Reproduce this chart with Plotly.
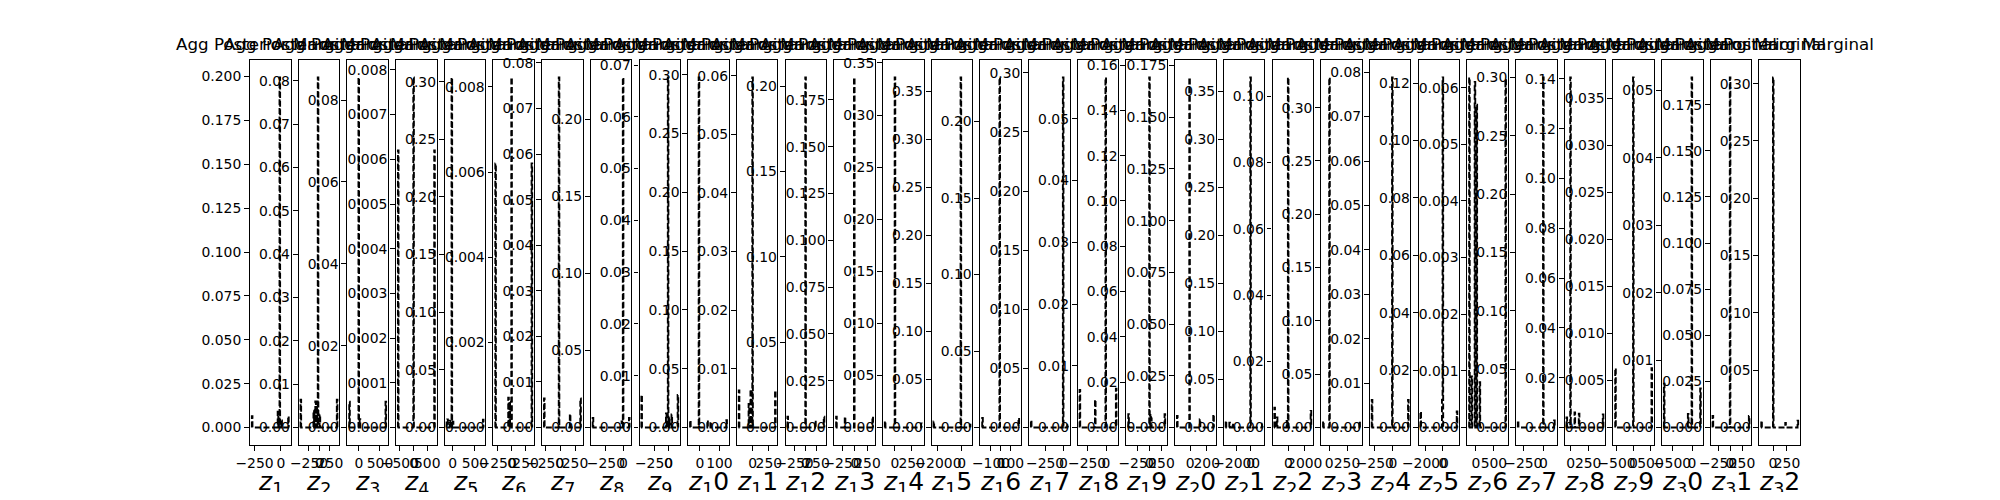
import numpy as np
import plotly.graph_objects as go

# ---------------- data ----------------
DIM_NAMES = [str(i) for i in range(1, 33)]

DATA_MIN = [-275, -451, -232, -575, -136, -293, -268, -441, -472, -51,
            -212, -412, -377, -152, -2376, -188, -445, -349, -442, -157,
            -3582, -1724, -88, -292, -2570, -191, -319, -58, -540, -704,
            -363, -210]
DATA_MAX = [73, 427, 646, 776, 692, 368, 348, 90, 174, 139,
            354, 428, 361, 401, 739, 182, 61, 138, 326, 286,
            1696, 2797, 432, 215, 1640, 836, 142, 467, 546, 219,
            405, 450]

# non-empty histogram bins: positions and heights (density)
BAR_X = [
    [-275, -31, -9, 5, 73],
    [-451, -140, -95, -60, -29, 10, 427],
    [-232, 0, 30, 646],
    [-575, 0, 776],
    [-136, -110, -60, -22, 10, 692],
    [-293, -60, -30, 0, 368],
    [-268, -12, 170, 348],
    [-441, -20, 0, 90],
    [-472, -40, 0, 20, 60, 174],
    [-51, -4, 40, 55, 139],
    [-212, -60, -30, 0, 354],
    [-412, 0, 220, 428],
    [-377, -200, -20, 361],
    [-152, 0, 401],
    [-2376, -60, 739],
    [-188, -10, 182],
    [-445, 0, 61],
    [-349, -145, 0, 138],
    [-442, -4, 20, 40, 326],
    [-157, -8, 120, 286],
    [-3582, -3000, -2600, 0, 1696],
    [-1724, -1400, -150, 0, 2797],
    [-88, 0, 432],
    [-292, -10, 215],
    [-2570, -100, 0, 1640],
    [-191, -120, -30, 20, 110, 836],
    [-319, 0, 142],
    [-58, 0, 60, 120, 467],
    [-540, 0, 546],
    [-704, -100, 0, 219],
    [-363, 0, 405],
    [-210, 0, 220, 450],
]
BAR_H = [
    [0.0065, 0.009, 0.1995, 0.004, 0.0065],
    [0.0064, 0.004, 0.006, 0.005, 0.0808, 0.003, 0.0064],
    [0.0063, 0.0855, 0.002, 0.0063],
    [0.0062, 0.00783, 0.0062],
    [0.006, 0.007, 0.006, 0.3036, 0.005, 0.0067],
    [0.0062, 0.0007, 0.0006, 0.00822, 0.0062],
    [0.0064, 0.0768, 0.003, 0.0064],
    [0.0062, 0.004, 0.227, 0.0062],
    [0.0063, 0.0027, 0.0676, 0.002, 0.0025, 0.0063],
    [0.0062, 0.2976, 0.006, 0.005, 0.0062],
    [0.0063, 0.004, 0.0065, 0.0597, 0.0063],
    [0.0063, 0.2051, 0.004, 0.0063],
    [0.0058, 0.0058, 0.187, 0.0058],
    [0.0062, 0.336, 0.004],
    [0.0062, 0.3646, 0.003],
    [0.0062, 0.2288, 0.0062],
    [0.0062, 0.296, 0.003],
    [0.0061, 0.0045, 0.0567, 0.0063],
    [0.0059, 0.1545, 0.006, 0.004, 0.0059],
    [0.0056, 0.1692, 0.004, 0.0064],
    [0.007, 0.005, 0.004, 0.3646, 0.004],
    [0.006, 0.003, 0.002, 0.1057, 0.005],
    [0.006, 0.3283, 0.006],
    [0.0062, 0.0788, 0.0062],
    [0.0056, 0.0096, 0.122, 0.0056],
    [0.00618, 0.0009, 0.0061, 0.0057, 0.0008, 0.00615],
    [0.006, 0.300, 0.006],
    [0.004, 0.1406, 0.006, 0.0055, 0.0052],
    [0.0063, 0.0372, 0.0063],
    [0.0065, 0.002, 0.0519, 0.0058],
    [0.0063, 0.1898, 0.0063],
    [0.006, 0.3054, 0.004, 0.006],
]

X_TICKS = [
    [-250, 0], [-250, 0, 250], [0, 500], [-500, 0, 500], [0, 500],
    [-250, 0, 250], [-250, 0, 250], [-250, 0], [-250, 0], [0, 100],
    [0, 250], [-250, 0, 250], [-250, 0, 250], [0, 250], [-2000, 0],
    [-100, 0, 100], [-250, 0], [-250, 0], [-250, 0, 250], [0, 200],
    [-2000, 0], [-2000, 0, 2000], [0, 250], [-250, 0], [-2000, 0],
    [0, 500], [-250, 0], [0, 250], [-500, 0, 500], [-500, 0],
    [-250, 0, 250], [0, 250],
]
Y_STEP = [0.025, 0.01, 0.02, 0.001, 0.05, 0.002, 0.01, 0.05, 0.01, 0.05,
          0.01, 0.05, 0.025, 0.05, 0.05, 0.05, 0.05, 0.01, 0.02, 0.025,
          0.05, 0.02, 0.05, 0.01, 0.02, 0.001, 0.05, 0.02, 0.005, 0.01,
          0.025, 0.05]
Y_DEC = [3, 2, 2, 3, 2, 3, 2, 2, 2, 2,
         2, 2, 3, 2, 2, 2, 2, 2, 2, 3,
         2, 2, 2, 2, 2, 3, 2, 2, 3, 2,
         3, 2]

N_BINS = 60
TITLE = "Agg Posterior Marginal"

# ---------------- figure geometry ----------------
FONT = "DejaVu Sans"
PAGE_OFF = 8                    # default body margin of the html page
FIG_W, FIG_H = 2000 - 2 * PAGE_OFF, 500 - 2 * PAGE_OFF


def fx(sx):
    return (sx - PAGE_OFF) / FIG_W


def fy(sy):
    return 1 - (sy - PAGE_OFF) / FIG_H


AX_LEFT, AX_RIGHT, AX_TOP, AX_BOTTOM = 250.0, 1800.0, 60.0, 445.0
n = len(DIM_NAMES)
ax_w = (AX_RIGHT - AX_LEFT) / (n + (n - 1) * 0.2)
ax_gap = 0.2 * ax_w

fig = go.Figure()
layout = dict(
    width=FIG_W, height=FIG_H,
    margin=dict(l=0, r=0, t=0, b=0, pad=0),
    paper_bgcolor="white", plot_bgcolor="white",
    showlegend=False,
    template="none",
    font=dict(family=FONT, color="black"),
)
annotations = []


def fmt_tick(v):
    return f"{v:g}".replace("-", "\u2212")


for i in range(n):
    dmin, dmax = DATA_MIN[i], DATA_MAX[i]
    edges = np.linspace(dmin, dmax, N_BINS + 1)
    bw = (dmax - dmin) / N_BINS
    heights = np.zeros(N_BINS)
    for bx, bh in zip(BAR_X[i], BAR_H[i]):
        k = int(np.clip(np.floor((bx - dmin) / bw), 0, N_BINS - 1))
        heights[k] = max(heights[k], bh)
    xs = np.repeat(edges, 2)
    ys = np.concatenate([[0.0], np.repeat(heights, 2), [0.0]])

    sfx = "" if i == 0 else str(i + 1)
    fig.add_trace(go.Scatter(
        x=xs, y=ys, mode="lines",
        line=dict(color="black", width=1.9, dash="6px,2.6px", simplify=False),
        xaxis="x" + sfx, yaxis="y" + sfx, hoverinfo="skip",
    ))

    span = dmax - dmin
    xr = [dmin - 0.05 * span, dmax + 0.05 * span]
    ymax = heights.max()
    yr = [-0.05 * ymax, 1.05 * ymax]

    sx0 = AX_LEFT + i * (ax_w + ax_gap)
    common = dict(
        showline=True, mirror=True, linecolor="black", linewidth=1.1,
        ticks="outside", ticklen=4.9, tickwidth=1.1, tickcolor="black",
        showgrid=False, zeroline=False, automargin=False,
        tickfont=dict(family=FONT, size=13.9, color="black"),
        fixedrange=True,
    )
    layout["xaxis" + sfx] = dict(
        domain=[fx(sx0), fx(sx0 + ax_w)], range=xr, anchor="y" + sfx,
        tickmode="array", tickvals=X_TICKS[i],
        ticktext=[fmt_tick(v) for v in X_TICKS[i]], tickangle=0,
        **common,
    )
    layout["yaxis" + sfx] = dict(
        domain=[fy(AX_BOTTOM), fy(AX_TOP)], range=yr, anchor="x" + sfx,
        tickmode="linear", tick0=0, dtick=Y_STEP[i],
        tickformat=f".{Y_DEC[i]}f",
        **common,
    )
    xc = fx(sx0 + ax_w / 2)
    annotations.append(dict(
        text=TITLE, x=xc, y=fy(AX_TOP - 4), xref="paper", yref="paper",
        xanchor="center", yanchor="bottom", showarrow=False,
        font=dict(family=FONT, size=16.7, color="black"),
    ))
    nm = DIM_NAMES[i]
    annotations.append(dict(
        text="<i>z</i><sub>" + nm[0] + "</sub>" + nm[1:],
        x=xc, y=fy(465), xref="paper", yref="paper",
        xanchor="center", yanchor="top", showarrow=False,
        font=dict(family=FONT, size=25, color="black"),
    ))

layout["annotations"] = annotations
fig.update_layout(**layout)
fig.write_html("out.html")
